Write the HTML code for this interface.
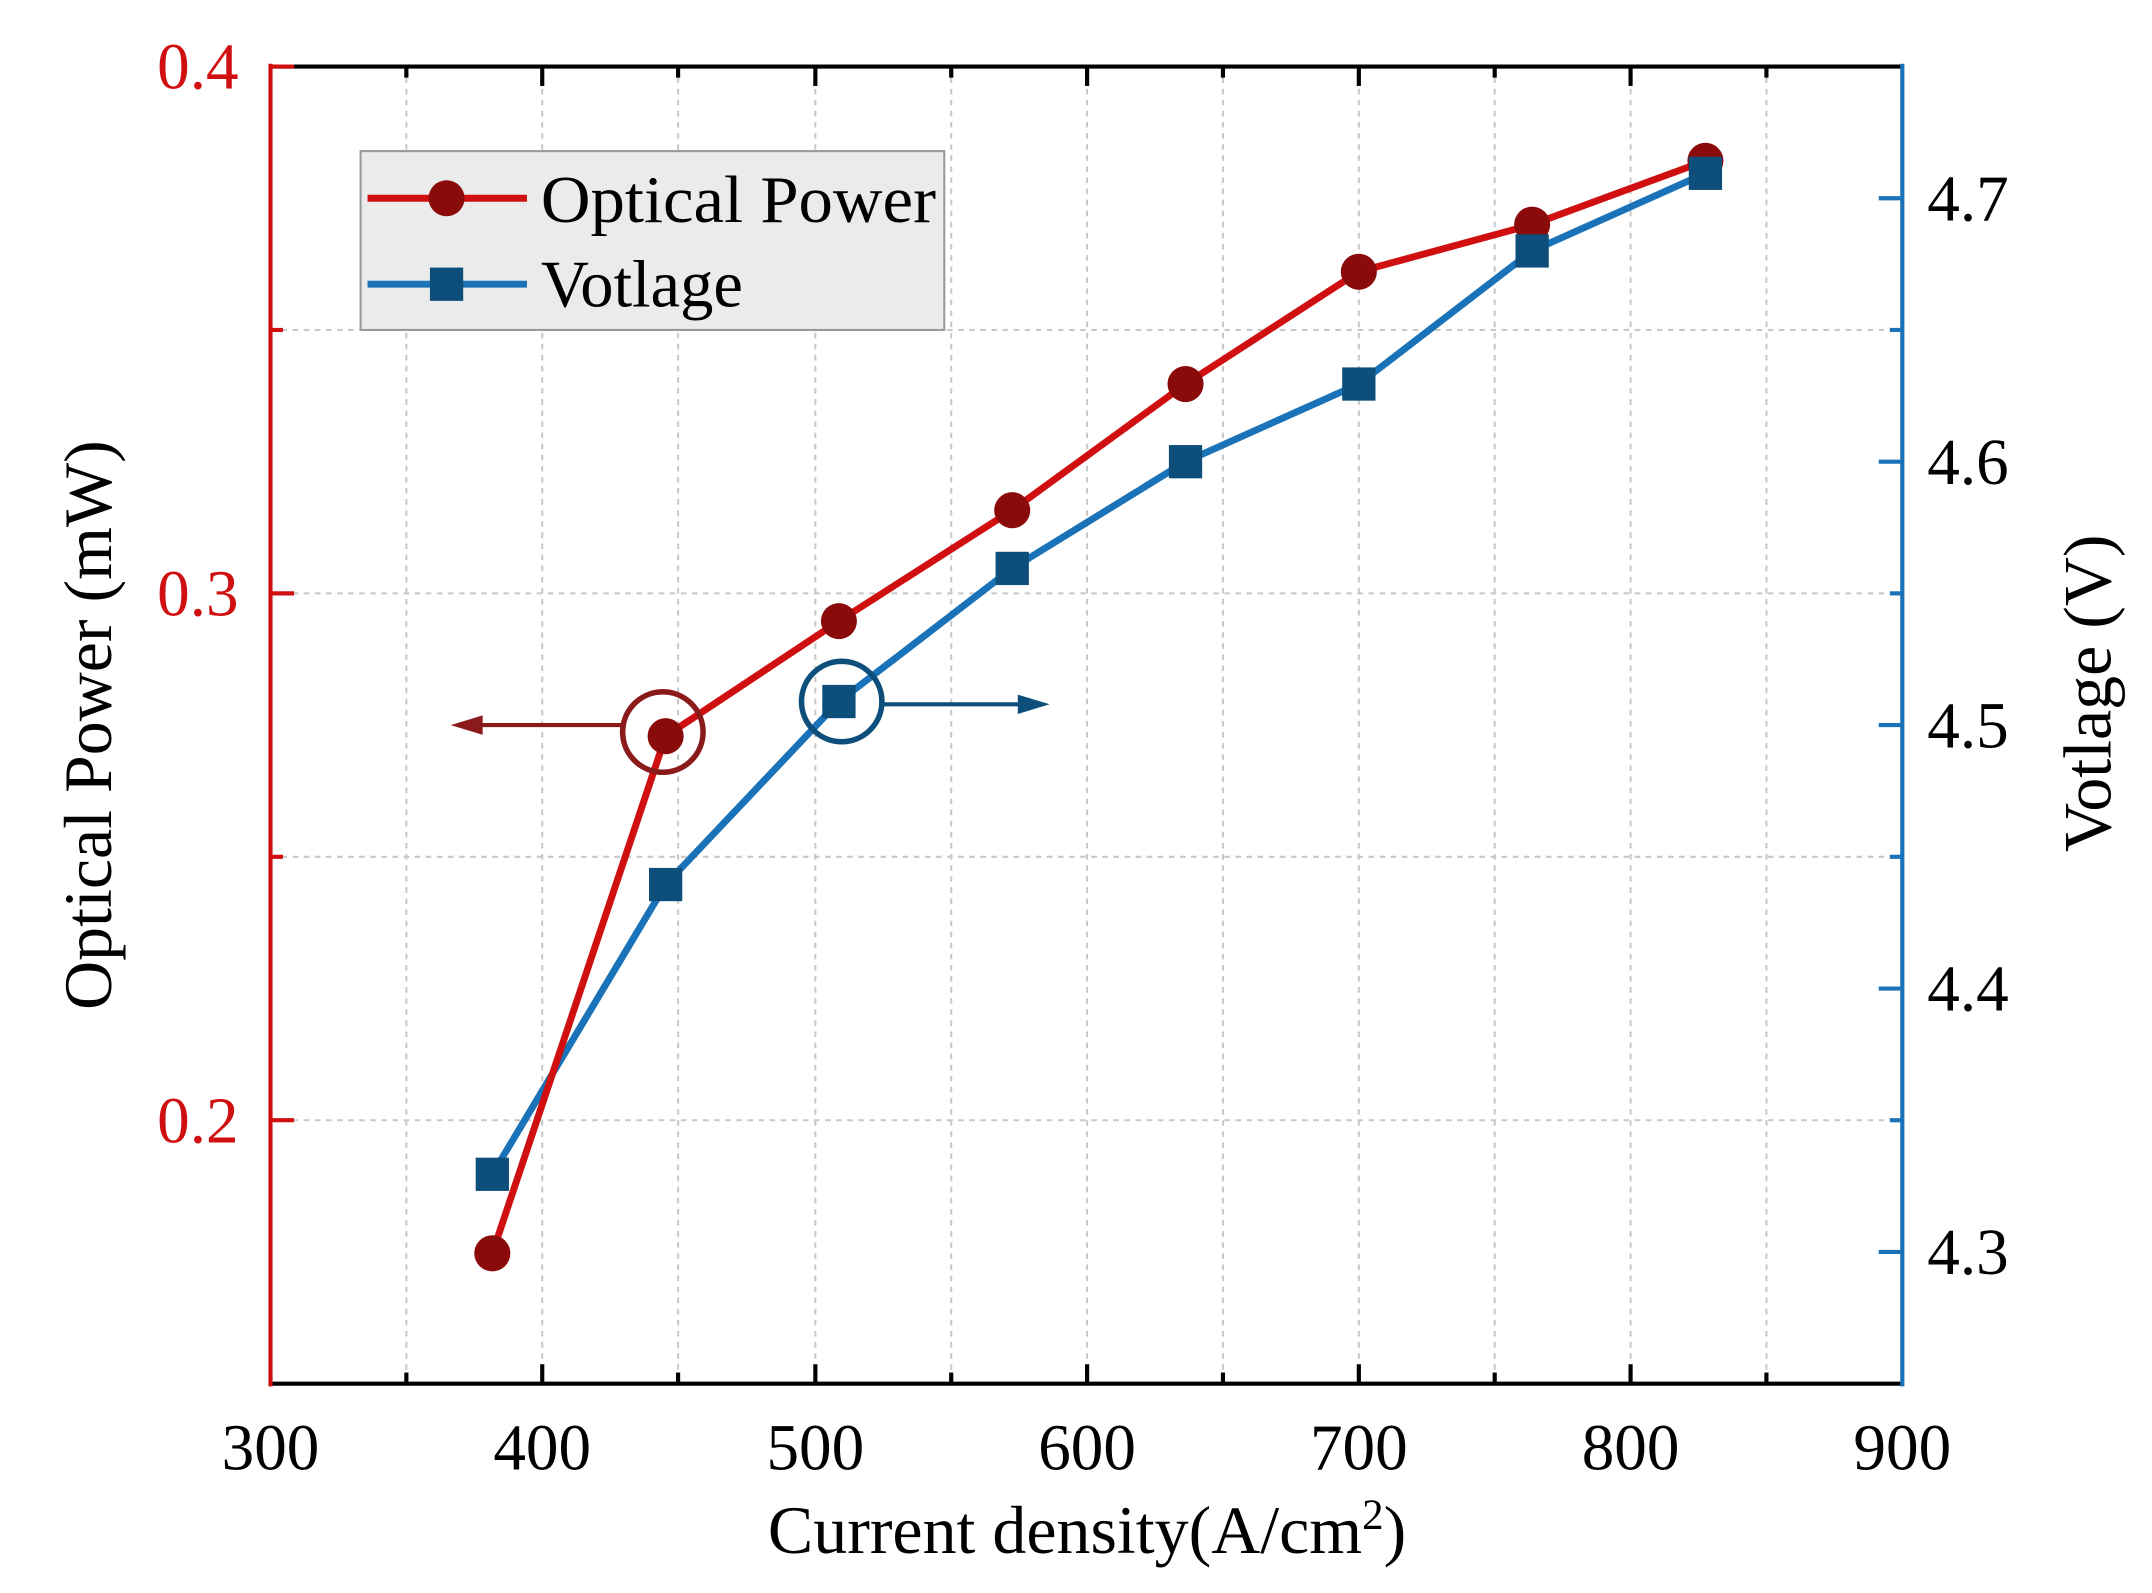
<!DOCTYPE html>
<html><head><meta charset="utf-8"><style>html,body{margin:0;padding:0;background:#fff}svg{display:block}</style></head>
<body>
<svg width="2152" height="1593" viewBox="0 0 1552 1149" xmlns="http://www.w3.org/2000/svg" font-family="Liberation Serif, serif">
<rect width="1552" height="1149" fill="#fff"/>
<g stroke="#c8c8c8" stroke-width="1.5" stroke-dasharray="4,4">
<line x1="293" y1="48" x2="293" y2="998"/><line x1="391" y1="48" x2="391" y2="998"/><line x1="489" y1="48" x2="489" y2="998"/><line x1="588" y1="48" x2="588" y2="998"/><line x1="686" y1="48" x2="686" y2="998"/><line x1="784" y1="48" x2="784" y2="998"/><line x1="882" y1="48" x2="882" y2="998"/><line x1="980" y1="48" x2="980" y2="998"/><line x1="1078" y1="48" x2="1078" y2="998"/><line x1="1176" y1="48" x2="1176" y2="998"/><line x1="1274" y1="48" x2="1274" y2="998"/>
<line x1="195" y1="238" x2="1372" y2="238"/><line x1="195" y1="428" x2="1372" y2="428"/><line x1="195" y1="618" x2="1372" y2="618"/><line x1="195" y1="808" x2="1372" y2="808"/>
</g>
<line x1="195" y1="48" x2="1372" y2="48" stroke="#000" stroke-width="3"/>
<line x1="195" y1="998" x2="1372" y2="998" stroke="#000" stroke-width="3"/>
<line x1="195" y1="46" x2="195" y2="1000" stroke="#d01010" stroke-width="3"/>
<line x1="1372" y1="46" x2="1372" y2="1000" stroke="#1a73b8" stroke-width="3"/>
<g stroke="#000" stroke-width="3">
<line x1="391" y1="998" x2="391" y2="984"/><line x1="588" y1="998" x2="588" y2="984"/><line x1="784" y1="998" x2="784" y2="984"/><line x1="980" y1="998" x2="980" y2="984"/><line x1="1176" y1="998" x2="1176" y2="984"/>
<line x1="293" y1="998" x2="293" y2="990"/><line x1="489" y1="998" x2="489" y2="990"/><line x1="686" y1="998" x2="686" y2="990"/><line x1="882" y1="998" x2="882" y2="990"/><line x1="1078" y1="998" x2="1078" y2="990"/><line x1="1274" y1="998" x2="1274" y2="990"/>
<line x1="391" y1="48" x2="391" y2="62"/><line x1="588" y1="48" x2="588" y2="62"/><line x1="784" y1="48" x2="784" y2="62"/><line x1="980" y1="48" x2="980" y2="62"/><line x1="1176" y1="48" x2="1176" y2="62"/>
<line x1="293" y1="48" x2="293" y2="56"/><line x1="489" y1="48" x2="489" y2="56"/><line x1="686" y1="48" x2="686" y2="56"/><line x1="882" y1="48" x2="882" y2="56"/><line x1="1078" y1="48" x2="1078" y2="56"/><line x1="1274" y1="48" x2="1274" y2="56"/>
</g>
<g stroke="#d01010" stroke-width="3">
<line x1="195" y1="48" x2="212" y2="48"/><line x1="195" y1="428" x2="212" y2="428"/><line x1="195" y1="808" x2="212" y2="808"/>
<line x1="195" y1="238" x2="204" y2="238"/><line x1="195" y1="618" x2="204" y2="618"/>
</g>
<g stroke="#1a73b8" stroke-width="3">
<line x1="1372" y1="143" x2="1355" y2="143"/><line x1="1372" y1="333" x2="1355" y2="333"/><line x1="1372" y1="523" x2="1355" y2="523"/><line x1="1372" y1="713" x2="1355" y2="713"/><line x1="1372" y1="903" x2="1355" y2="903"/>
<line x1="1372" y1="238" x2="1363" y2="238"/><line x1="1372" y1="428" x2="1363" y2="428"/><line x1="1372" y1="618" x2="1363" y2="618"/><line x1="1372" y1="808" x2="1363" y2="808"/>
</g>
<g font-size="47" fill="#000" text-anchor="middle">
<text x="195" y="1060">300</text><text x="391" y="1060">400</text><text x="588" y="1060">500</text><text x="784" y="1060">600</text><text x="980" y="1060">700</text><text x="1176" y="1060">800</text><text x="1372" y="1060">900</text>
</g>
<g font-size="47" fill="#d01010" text-anchor="end">
<text x="172" y="64">0.4</text><text x="172" y="444">0.3</text><text x="172" y="824">0.2</text>
</g>
<g font-size="47" fill="#000" text-anchor="start">
<text x="1390" y="159">4.7</text><text x="1390" y="349">4.6</text><text x="1390" y="539">4.5</text><text x="1390" y="729">4.4</text><text x="1390" y="919">4.3</text>
</g>
<text x="784" y="1120" font-size="49" text-anchor="middle">Current density(A/cm<tspan dy="-17" font-size="31">2</tspan><tspan dy="17">)</tspan></text>
<text transform="translate(80,523) rotate(-90)" font-size="49" text-anchor="middle">Optical Power (mW)</text>
<text transform="translate(1522,500) rotate(-90)" font-size="49" text-anchor="middle">Votlage (V)</text>
<polyline fill="none" stroke="#1a73b8" stroke-width="5" stroke-linejoin="round" points="355,847 480,638 605,506 730,410 855,333 980,277 1105,181 1230,125"/>
<polyline fill="none" stroke="#d01010" stroke-width="5" stroke-linejoin="round" points="355,904 480,531 605,448 730,368 855,277 980,196 1105,162 1230,116"/>
<g fill="#8b0a0a">
<circle cx="355" cy="904" r="13"/><circle cx="480" cy="531" r="13"/><circle cx="605" cy="448" r="13"/><circle cx="730" cy="368" r="13"/><circle cx="855" cy="277" r="13"/><circle cx="980" cy="196" r="13"/><circle cx="1105" cy="162" r="13"/><circle cx="1230" cy="116" r="13"/>
</g>
<g fill="#0d4f7a">
<rect x="343" y="835" width="24" height="24"/><rect x="468" y="626" width="24" height="24"/><rect x="593" y="494" width="24" height="24"/><rect x="718" y="398" width="24" height="24"/><rect x="843" y="321" width="24" height="24"/><rect x="968" y="265" width="24" height="24"/><rect x="1093" y="169" width="24" height="24"/><rect x="1218" y="113" width="24" height="24"/>
</g>
<circle cx="478" cy="528" r="29" fill="none" stroke="#8b1a1a" stroke-width="4"/>
<line x1="448" y1="523" x2="340" y2="523" stroke="#8b1a1a" stroke-width="3"/>
<polygon points="325,523 348,516 348,530" fill="#8b1a1a"/>
<circle cx="607" cy="506" r="29" fill="none" stroke="#0d4f7a" stroke-width="4"/>
<line x1="636" y1="508" x2="742" y2="508" stroke="#0d4f7a" stroke-width="3"/>
<polygon points="757,508 734,501 734,515" fill="#0d4f7a"/>
<rect x="260" y="109" width="421" height="129" fill="#ebebeb" stroke="#999" stroke-width="1.5"/>
<line x1="265" y1="143" x2="380" y2="143" stroke="#d01010" stroke-width="5"/>
<circle cx="322" cy="143" r="13" fill="#8b0a0a"/>
<line x1="265" y1="205" x2="380" y2="205" stroke="#1a73b8" stroke-width="5"/>
<rect x="310" y="193" width="24" height="24" fill="#0d4f7a"/>
<text x="390" y="160" font-size="48" textLength="285" lengthAdjust="spacingAndGlyphs">Optical Power</text>
<text x="390" y="221" font-size="48">Votlage</text>
</svg>
</body></html>
